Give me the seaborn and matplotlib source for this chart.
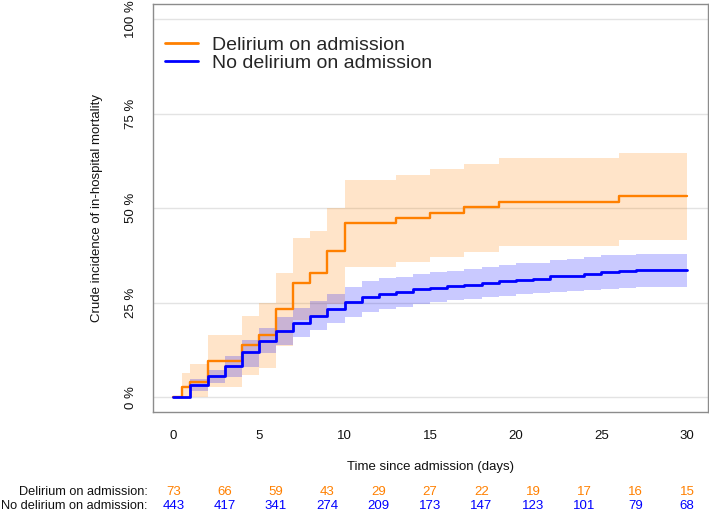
import numpy as np
import pandas as pd
import seaborn as sns
import matplotlib.pyplot as plt
import matplotlib.transforms as mtransforms

sns.set_style("white")
plt.rcParams['font.family'] = ['Liberation Sans', 'DejaVu Sans']

# cumulative incidence (%), step values start at each time
del_times = [0, 0.5, 1, 2, 4, 5, 6, 7, 8, 9, 10, 13, 15, 17, 19, 26, 30]
del_est = [0, 2.7, 4.1, 9.6, 13.7, 16.4, 23.3, 30.1, 32.9, 38.6, 46.0, 47.4, 48.7, 50.2, 51.6, 53.1, 53.1]
del_lo = [0, 0, 0, 2.8, 5.8, 7.8, 13.6, 20.3, 21.6, 24.7, 34.4, 35.7, 37.0, 38.5, 40.1, 41.6, 41.6]
del_hi = [0, 6.5, 8.7, 16.4, 21.5, 24.9, 32.9, 42.1, 44.0, 50.0, 57.5, 58.9, 60.4, 61.7, 63.2, 64.7, 64.7]

nodel_times = list(range(0, 28)) + [30]
nodel_est = [0, 3.1, 5.5, 8.3, 12.0, 14.9, 17.6, 19.5, 21.6, 23.2, 25.1, 26.5, 27.4, 27.7, 28.5,
             29.0, 29.3, 29.8, 30.2, 30.7, 30.9, 31.2, 32.0, 32.1, 32.6, 33.1, 33.4, 33.7, 33.7]
nodel_lo = [0, 1.7, 3.7, 5.4, 8.0, 11.6, 13.7, 15.9, 17.7, 19.5, 21.2, 22.5, 23.4, 23.8, 24.7,
            25.2, 25.6, 26.0, 26.4, 26.8, 27.3, 27.5, 27.8, 28.0, 28.3, 28.7, 28.9, 29.1, 29.1]
nodel_hi = [0, 4.8, 7.1, 10.8, 15.0, 18.2, 21.2, 23.5, 25.4, 27.4, 29.1, 30.7, 31.5, 31.8, 32.7,
            33.0, 33.4, 33.9, 34.4, 35.0, 35.4, 35.6, 36.3, 36.6, 37.0, 37.5, 37.7, 37.9, 37.9]

# numbers at risk
risk_times = [0, 3, 6, 9, 12, 15, 18, 21, 24, 27, 30]
del_risk = [73, 66, 59, 43, 29, 27, 22, 19, 17, 16, 15]
nodel_risk = [443, 417, 341, 274, 209, 173, 147, 123, 101, 79, 68]

group_names = ['Delirium on admission', 'No delirium on admission']
orange = '#FF8000'
blue = '#0000FF'

y_ticks = [0, 25, 50, 75, 100]
y_tick_labels = ['0 %', '25 %', '50 %', '75 %', '100 %']
x_ticks = [0, 5, 10, 15, 20, 25, 30]

df_del = pd.DataFrame({'time': del_times, 'est': del_est})
df_nodel = pd.DataFrame({'time': nodel_times, 'est': nodel_est})

fig = plt.figure(figsize=(7.09, 5.12), dpi=100)
ax = fig.add_axes([0.2154, 0.1947, 0.7826, 0.7975])

# grid
for yt in y_ticks:
    ax.axhline(yt, color='#E3E3E3', linewidth=1.0, zorder=0)

# confidence bands
ax.fill_between(del_times, del_lo, del_hi, step='post', color=orange, alpha=0.21,
                linewidth=0, zorder=1)
ax.fill_between(nodel_times, nodel_lo, nodel_hi, step='post', color=blue, alpha=0.21,
                linewidth=0, zorder=2)

# step curves
sns.lineplot(data=df_del, x='time', y='est', drawstyle='steps-post', color=orange,
             linewidth=1.7, estimator=None, label=group_names[0], ax=ax, zorder=3)
sns.lineplot(data=df_nodel, x='time', y='est', drawstyle='steps-post', color=blue,
             linewidth=2.0, estimator=None, label=group_names[1], ax=ax, zorder=4)

ax.set_xlim(-1.2, 31.2)
ax.set_ylim(-4, 104)
ax.set_xticks(x_ticks)
ax.set_xticklabels([str(x) for x in x_ticks], fontsize=9.5)
ax.set_yticks(y_ticks)
ax.set_yticklabels(y_tick_labels, rotation=90, va='center', fontsize=9.5)
ax.tick_params(axis='both', direction='out', length=5.5, width=1.0, color='#666666',
               pad=6, labelcolor='#111111')
ax.tick_params(axis='x', pad=7)

for side in ['left', 'right', 'top', 'bottom']:
    ax.spines[side].set_visible(True)
    ax.spines[side].set_color('#8C8C8C')
    ax.spines[side].set_linewidth(1.0)

ax.set_xlabel('Time since admission (days)', fontsize=9.5, labelpad=14, color='#111111')
ax.set_ylabel('Crude incidence of in-hospital mortality', fontsize=9.5, labelpad=16,
              color='#111111')

leg = ax.legend(loc='upper left', bbox_to_anchor=(0.022, 0.92), frameon=False, fontsize=14,
                handlelength=1.7, handletextpad=0.7, labelspacing=0.02, borderpad=0,
                borderaxespad=0)
for line in leg.get_lines():
    line.set_linewidth(2.0)

# numbers at risk table
row_y = [0.0397, 0.0117]
fig.text(0.2083, row_y[0], group_names[0] + ':', ha='right', va='center', fontsize=9.2,
         color='#111111')
fig.text(0.2083, row_y[1], group_names[1] + ':', ha='right', va='center', fontsize=9.2,
         color='#111111')
blend = mtransforms.blended_transform_factory(ax.transData, fig.transFigure)
for t, n in zip(risk_times, del_risk):
    ax.text(t, row_y[0], str(n), transform=blend, ha='center', va='center', fontsize=9.5,
            color=orange, clip_on=False)
for t, n in zip(risk_times, nodel_risk):
    ax.text(t, row_y[1], str(n), transform=blend, ha='center', va='center', fontsize=9.5,
            color=blue, clip_on=False)

fig.savefig('out.png', dpi=100)
